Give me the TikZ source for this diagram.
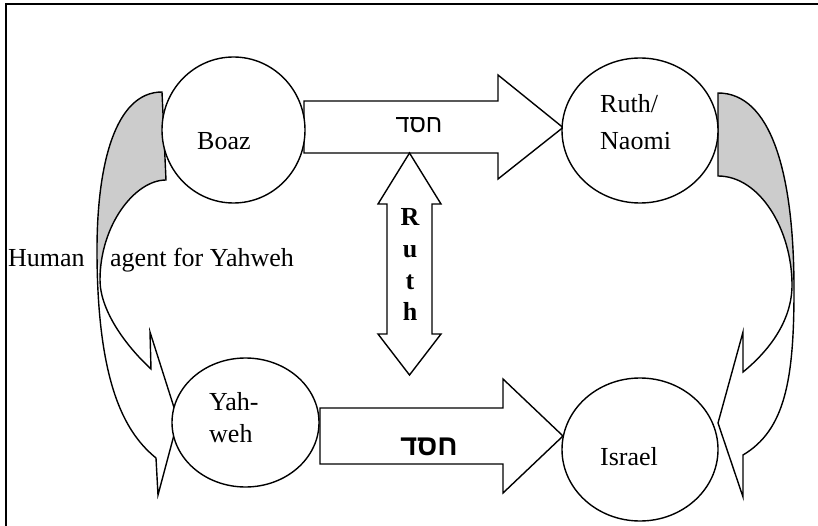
\documentclass[tikz,border=0pt]{standalone}
\usepackage{fontspec}
\setmainfont{Liberation Serif}
\newfontfamily\hebfont[Script=Hebrew]{Liberation Sans}
\TeXXeTstate=1
\usetikzlibrary{shapes.geometric}
\definecolor{bandgrey}{RGB}{204,204,204}
\begin{document}
\begin{tikzpicture}[x=1pt,y=-1pt,
  outl/.style={draw=black, line width=1.4pt, line join=miter},
  ell/.style={ellipse, draw=black, line width=1.4pt, fill=white, inner sep=0pt, outer sep=0pt},
  lbl/.style={inner sep=0pt, anchor=base west, font=\fontsize{26}{30}\selectfont},
  hebl/.style={inner sep=0pt, anchor=base, font=\hebfont\fontsize{25}{30}\selectfont},
  hebb/.style={inner sep=0pt, anchor=base, font=\hebfont\bfseries\fontsize{29}{34}\selectfont},
  vlet/.style={inner sep=0pt, anchor=base, font=\bfseries\fontsize{26}{30}\selectfont}]
\useasboundingbox (0,0) rectangle (818,526);
% frame
\draw[line width=1.7pt] (6,526) -- (6,4.3) -- (818,4.3);

% left curved arrow (Boaz -> Yahweh)
\fill[bandgrey] (162,92) .. controls (115,92) and (97,165) .. (97,250)
  -- (100,280) .. controls (100,225) and (135,180) .. (166,180) -- cycle;
\draw[outl] (166,180) -- (162,92) .. controls (115,92) and (97,165) .. (97,250)
  .. controls (97,390) and (128,435) .. (156,458) -- (158,495) -- (178,420)
  -- (150,332) -- (151,369) .. controls (125,345) and (100,310) .. (100,280)
  .. controls (100,225) and (135,180) .. (166,180) -- cycle;

% right curved arrow (Ruth/Naomi -> Israel)
\fill[bandgrey] (718,93) .. controls (770,93) and (794,170) .. (794,290)
  -- (792,285) .. controls (792,230) and (760,176) .. (718,176) -- cycle;
\draw[outl] (718,176) -- (718,93) .. controls (770,93) and (794,170) .. (794,290)
  .. controls (794,380) and (785,430) .. (743,455) -- (743,497) -- (718,423)
  -- (743,332) -- (743,372) .. controls (770,350) and (792,320) .. (792,285)
  .. controls (792,230) and (760,176) .. (718,176) -- cycle;

% block arrows
\draw[outl, fill=white] (304,101) -- (498,101) -- (498,75) -- (563,127.5) -- (498,179)
  -- (498,153) -- (304,153) -- cycle;
\draw[outl, fill=white] (387,204) -- (378,204) -- (409.5,153) -- (441,204) -- (432,204)
  -- (432,334) -- (441,334) -- (409.5,375) -- (378,334) -- (387,334) -- cycle;
\draw[outl, fill=white] (320,408) -- (503,408) -- (503,379) -- (563,436) -- (503,493)
  -- (503,464) -- (320,464) -- cycle;

% ellipses
\node[ell, minimum width=143pt, minimum height=146pt] (boaz) at (233.5,130) {};
\node[ell, minimum width=156pt, minimum height=145pt] (ruth) at (640,130.5) {};
\node[ell, minimum width=147pt, minimum height=129pt] (yahweh) at (245.5,422.5) {};
\node[ell, minimum width=156pt, minimum height=143pt] (israel) at (640,449.5) {};

% labels
\node[lbl] (tboaz) at (197,150) {Boaz};
\node[lbl] (truth1) at (600,113) {Ruth/};
\node[lbl] (truth2) at (600,150) {Naomi};
\node[lbl] (tyah1) at (209,410) {Yah-};
\node[lbl] (tyah2) at (209,442) {weh};
\node[lbl] (tisr) at (600,465) {Israel};
\node[lbl] (thuman) at (8,267) {Human};
\node[lbl] (tagent) at (110,267) {agent for Yahweh};

\node[hebl] (hesed1) at (419,133) {\beginR חסד\endR};
\node[hebb] (hesed2) at (429,455) {\beginR חסד\endR};

\node[vlet] (lR) at (410,226) {R};
\node[vlet] (lu) at (410,258) {u};
\node[vlet] (lt) at (410,290) {t};
\node[vlet] (lh) at (410,320) {h};
\end{tikzpicture}
\end{document}
